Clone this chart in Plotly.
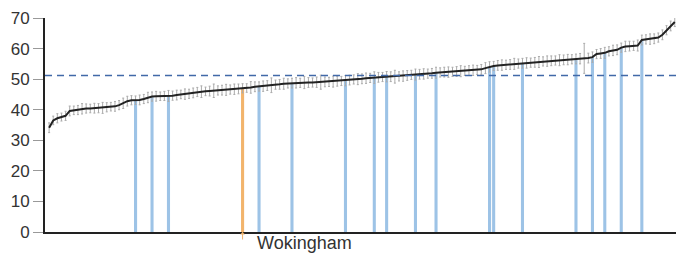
import plotly.graph_objects as go

# Sorted authority values (left to right)
values = [
    34.1, 36.5, 37.2, 37.6, 38.0, 39.6, 39.8, 39.9, 40.3, 40.4,
    40.4, 40.5, 40.5, 40.6, 40.8, 41.0, 41.1, 41.5, 42.1, 42.8,
    43.1, 43.1, 43.2, 43.5, 44.0, 44.3, 44.4, 44.4, 44.5, 44.5,
    44.6, 44.8, 45.0, 45.1, 45.2, 45.5, 45.8, 45.9, 46.0, 46.1,
    46.2, 46.3, 46.4, 46.5, 46.6, 46.7, 46.8, 47.0, 47.1, 47.3,
    47.5, 47.6, 47.7, 47.9, 48.0, 48.2, 48.3, 48.5, 48.6, 48.7,
    48.8, 48.8, 48.9, 48.9, 48.9, 49.0, 49.0, 49.1, 49.1, 49.2,
    49.3, 49.4, 49.5, 49.7, 49.9, 50.0, 50.1, 50.3, 50.4, 50.5,
    50.6, 50.7, 50.8, 50.8, 50.8, 50.9, 51.0, 51.2, 51.4, 51.5,
    51.6, 51.7, 51.8, 51.9, 52.1, 52.2, 52.3, 52.3, 52.4, 52.5,
    52.6, 52.7, 52.8, 52.9, 53.0, 53.2, 53.6, 54.0, 54.3, 54.5,
    54.6, 54.7, 54.8, 55.0, 55.1, 55.2, 55.3, 55.4, 55.5, 55.6,
    55.8, 55.9, 56.0, 56.1, 56.2, 56.3, 56.4, 56.5, 56.6, 56.7,
    56.8, 56.9, 57.2, 58.2, 58.4, 58.6, 59.1, 59.4, 59.6, 60.3,
    60.7, 60.8, 60.9, 61.0, 62.8, 63.0, 63.1, 63.2, 63.6, 64.5,
    66.0, 67.4, 68.7,
]

errors = [
    1.6, 1.4, 1.5, 1.3, 1.5, 1.6, 1.4, 1.5, 1.7, 1.5,
    1.4, 1.6, 1.5, 1.8, 1.5, 1.4, 1.6, 1.5, 1.7, 1.6,
    1.5, 1.4, 1.6, 1.5, 1.7, 1.5, 1.6, 1.4, 1.5, 1.8,
    1.5, 1.6, 1.4, 1.7, 1.5, 1.6, 1.5, 1.9, 1.4, 1.6,
    2.2, 1.5, 1.6, 1.8, 1.5, 1.7, 1.6, 1.5, 1.4, 1.9,
    1.6, 1.5, 1.7, 1.6, 2.4, 1.5, 1.6, 1.8, 1.5, 1.6,
    1.7, 1.5, 2.0, 1.6, 1.5, 1.7, 2.3, 1.6, 1.5, 1.8,
    1.6, 1.5, 1.7, 1.6, 1.5, 1.8, 1.6, 1.7, 1.5, 1.9,
    1.6, 1.5, 1.7, 1.6, 2.1, 1.5, 1.7, 1.6, 1.5, 1.8,
    1.6, 1.7, 1.5, 1.6, 1.8, 1.5, 1.6, 1.7, 1.5, 1.6,
    1.8, 1.5, 1.6, 1.7, 1.5, 1.6, 1.8, 1.7, 1.5, 1.6,
    1.7, 1.5, 1.6, 1.8, 1.5, 1.6, 1.7, 1.5, 1.6, 1.8,
    1.5, 1.7, 1.6, 1.5, 1.8, 1.6, 1.7, 1.5, 1.6, 1.7,
    4.9, 1.6, 1.7, 1.5, 1.6, 1.8, 1.5, 1.7, 1.6, 1.5,
    1.7, 1.6, 1.5, 1.8, 1.6, 1.5, 1.7, 1.6, 1.5, 1.6,
    1.5, 1.6, 1.5,
]

positions = list(range(len(values)))

# Highlighted authorities (rank positions)
highlight_blue = [21, 25, 29, 51, 59, 72, 79, 82, 89, 94, 107, 108, 115, 128, 132, 135, 139, 144]
highlight_orange = [47]
orange_label = "Wokingham"

average_value = 51.2
y_ticks = [0, 10, 20, 30, 40, 50, 60, 70]

fig = go.Figure()

fig.add_trace(go.Bar(
    x=highlight_blue,
    y=[values[i] for i in highlight_blue],
    width=0.75,
    marker=dict(color="#9dc3e6", line=dict(width=0)),
    hoverinfo="skip",
))
fig.add_trace(go.Bar(
    x=highlight_orange,
    y=[values[i] for i in highlight_orange],
    width=0.75,
    marker=dict(color="#f2b46c", line=dict(width=0)),
    hoverinfo="skip",
))

fig.add_trace(go.Scatter(
    x=positions,
    y=values,
    mode="lines",
    line=dict(color="#222222", width=2),
    error_y=dict(type="data", array=errors, visible=True,
                 color="#ababab", thickness=1, width=1),
    hoverinfo="skip",
))

fig.add_shape(type="line", xref="paper", x0=0, x1=1, yref="y",
              y0=average_value, y1=average_value,
              line=dict(color="#4169a8", width=1.6, dash="7px,5px"))

fig.add_annotation(x=highlight_orange[0], y=0, xref="x", yref="y",
                   text=orange_label, showarrow=False,
                   xanchor="left", yanchor="middle", xshift=12, yshift=-11,
                   font=dict(family="Liberation Sans, Arial", size=18, color="#333333"))
fig.add_annotation(x=highlight_orange[0], y=0, xref="x", yref="y",
                   text="", showarrow=True, ax=0, ay=9,
                   arrowhead=1, arrowsize=0.8, arrowwidth=1, arrowcolor="#f2b46c")

fig.update_layout(
    width=676, height=254,
    margin=dict(l=45, r=0, t=18, b=22, autoexpand=False),
    paper_bgcolor="white", plot_bgcolor="white",
    showlegend=False, barmode="overlay", hovermode=False,
    font=dict(family="Liberation Sans, Arial", size=17, color="#333333"),
)
fig.update_xaxes(range=[-1, 152.3], showgrid=False, zeroline=False,
                 showticklabels=False, ticks="", automargin=False,
                 showline=True, linecolor="#222222", linewidth=2)
fig.update_yaxes(range=[0, 70], tickvals=y_ticks, showgrid=False, zeroline=False,
                 ticks="outside", ticklen=10, tickcolor="#999999", tickwidth=1,
                 showline=True, linecolor="#222222", linewidth=2, automargin=False,
                 ticklabeloverflow="allow",
                 tickfont=dict(size=17, color="#333333"))

fig.write_html(
    "out.html",
    config={"displayModeBar": False},
    post_script="document.body.style.margin='0';document.body.style.overflow='hidden';",
)
